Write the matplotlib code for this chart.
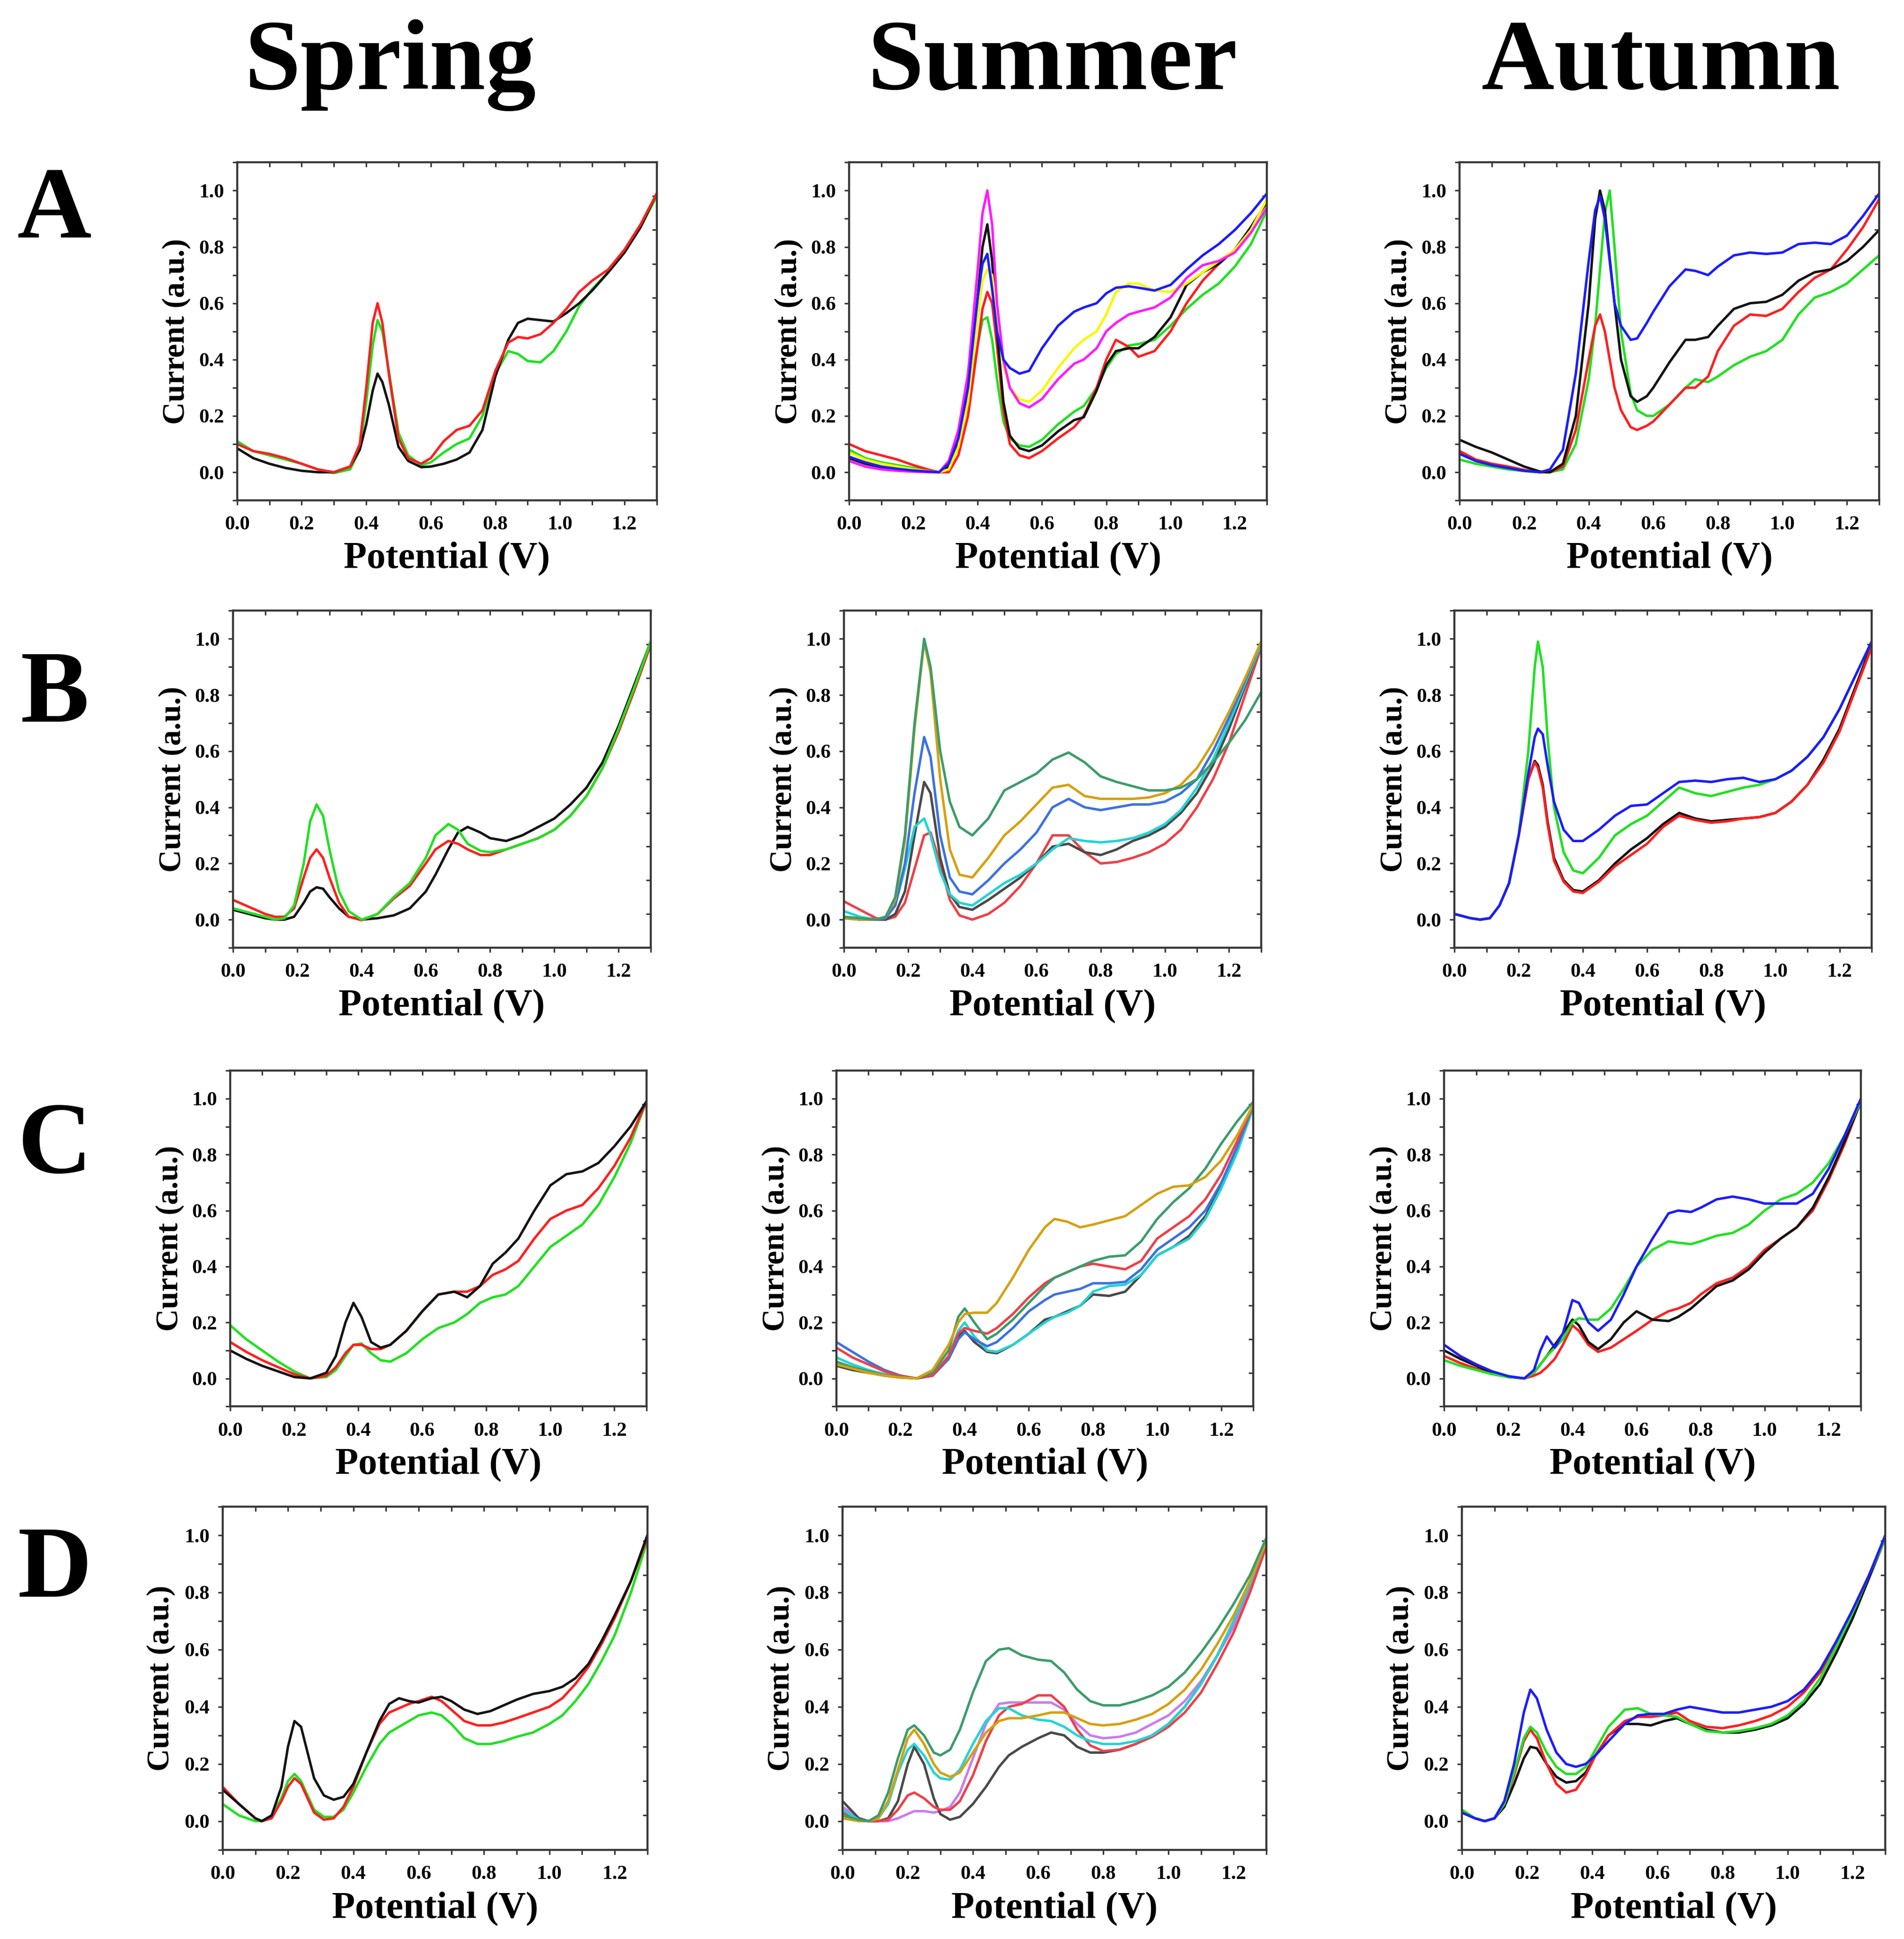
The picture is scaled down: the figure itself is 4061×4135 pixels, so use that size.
import matplotlib
matplotlib.use("Agg")
import matplotlib.pyplot as plt
from matplotlib.ticker import MultipleLocator, FixedLocator, FormatStrFormatter

plt.rcParams['font.family'] = ['Liberation Serif', 'DejaVu Serif']
plt.rcParams['font.weight'] = 'bold'

# colours
BLACK = '#141414'
RED = '#ff1f1f'
GREEN = '#22e022'
BLUE = '#1c1cff'
MAGENTA = '#ff1aff'
YELLOW = '#f8f800'
S_GRAY = '#4a4a4a'
S_RED = '#ee4048'
S_TEAL = '#3c9c6c'
S_GOLD = '#d6a010'
S_BLUE = '#3c72e0'
S_CYAN = '#22d4d4'
S_VIOLET = '#c77cf0'

seasons = ['Spring', 'Summer', 'Autumn']
rows = ['A', 'B', 'C', 'D']

# ---------------- row A ----------------
x_a_spring = [0, 0.05, 0.1, 0.15, 0.2, 0.25, 0.3, 0.35, 0.38, 0.4, 0.42, 0.435, 0.45, 0.47, 0.5,
              0.53, 0.57, 0.6, 0.64, 0.68, 0.72, 0.76, 0.8, 0.84, 0.87, 0.9, 0.94, 0.98, 1.02, 1.06,
              1.1, 1.15, 1.2, 1.25, 1.3]
a_spring_black = [0.085, 0.05, 0.03, 0.015, 0.005, 0.0, 0.0, 0.02, 0.08, 0.17, 0.29, 0.35, 0.32, 0.24, 0.09,
                  0.04, 0.018, 0.02, 0.03, 0.045, 0.07, 0.15, 0.34, 0.47, 0.53, 0.545, 0.54, 0.535, 0.565, 0.6,
                  0.645, 0.71, 0.78, 0.87, 0.99]
a_spring_red = [0.1, 0.075, 0.065, 0.05, 0.03, 0.01, 0.0, 0.02, 0.1, 0.3, 0.53, 0.6, 0.53, 0.35, 0.12,
                0.05, 0.03, 0.05, 0.11, 0.15, 0.165, 0.22, 0.36, 0.46, 0.48, 0.475, 0.49, 0.53, 0.58, 0.64,
                0.68, 0.72, 0.79, 0.88, 0.99]
a_spring_green = [0.11, 0.075, 0.06, 0.045, 0.03, 0.01, -0.003, 0.01, 0.08, 0.25, 0.45, 0.54, 0.5, 0.36, 0.14,
                  0.06, 0.025, 0.035, 0.07, 0.1, 0.12, 0.2, 0.35, 0.43, 0.42, 0.395, 0.39, 0.43, 0.5, 0.59,
                  0.65, 0.71, 0.78, 0.87, 0.98]

x_a_summer = [0, 0.05, 0.1, 0.15, 0.2, 0.25, 0.28, 0.31, 0.34, 0.37, 0.4, 0.415, 0.43, 0.445, 0.46,
              0.48, 0.5, 0.53, 0.56, 0.6, 0.65, 0.7, 0.73, 0.77, 0.8, 0.83, 0.87, 0.9, 0.95, 1.0,
              1.05, 1.1, 1.15, 1.2, 1.25, 1.3]
a_summer_green = [0.08, 0.05, 0.035, 0.025, 0.015, 0.005, 0.0, 0.01, 0.09, 0.25, 0.45, 0.54, 0.55, 0.47, 0.33,
                  0.18, 0.12, 0.095, 0.09, 0.115, 0.17, 0.215, 0.235, 0.3, 0.37, 0.42, 0.45, 0.455, 0.47, 0.52,
                  0.58, 0.63, 0.67, 0.73, 0.81, 0.93]
a_summer_red = [0.1, 0.075, 0.06, 0.045, 0.025, 0.008, 0.0, 0.0, 0.06, 0.2, 0.45, 0.58, 0.64, 0.6, 0.45,
                0.22, 0.1, 0.06, 0.05, 0.075, 0.12, 0.16, 0.2, 0.3, 0.4, 0.47, 0.445, 0.41, 0.43, 0.5,
                0.6, 0.68, 0.74, 0.79, 0.87, 0.96]
a_summer_black = [0.05, 0.03, 0.018, 0.01, 0.005, 0.002, 0.0, 0.02, 0.1, 0.27, 0.62, 0.8, 0.88, 0.75, 0.5,
                  0.25, 0.13, 0.085, 0.075, 0.095, 0.145, 0.185, 0.195, 0.29, 0.38, 0.43, 0.44, 0.44, 0.48, 0.55,
                  0.665, 0.71, 0.74, 0.79, 0.87, 0.96]
a_summer_yellow = [0.07, 0.045, 0.03, 0.02, 0.01, 0.003, 0.0, 0.01, 0.09, 0.25, 0.55, 0.68, 0.72, 0.7, 0.55,
                   0.38, 0.3, 0.26, 0.25, 0.29, 0.37, 0.44, 0.47, 0.5, 0.56, 0.64, 0.67, 0.67, 0.645, 0.64,
                   0.67, 0.71, 0.75, 0.79, 0.86, 0.97]
a_summer_magenta = [0.04, 0.02, 0.01, 0.005, 0.002, 0.0, 0.0, 0.04, 0.15, 0.35, 0.72, 0.92, 1.0, 0.88, 0.6,
                    0.4, 0.3, 0.245, 0.23, 0.26, 0.33, 0.385, 0.4, 0.44, 0.5, 0.53, 0.56, 0.57, 0.585, 0.62,
                    0.69, 0.735, 0.75, 0.78, 0.85, 0.94]
a_summer_blue = [0.055, 0.035, 0.02, 0.012, 0.006, 0.002, 0.0, 0.03, 0.12, 0.3, 0.62, 0.74, 0.775, 0.65, 0.5,
                 0.4, 0.37, 0.35, 0.36, 0.44, 0.52, 0.57, 0.585, 0.6, 0.635, 0.655, 0.66, 0.655, 0.645, 0.665,
                 0.72, 0.77, 0.81, 0.86, 0.92, 0.99]

x_a_autumn = [0, 0.05, 0.1, 0.15, 0.2, 0.25, 0.28, 0.32, 0.36, 0.4, 0.42, 0.435, 0.45, 0.465, 0.48,
              0.5, 0.53, 0.55, 0.58, 0.6, 0.65, 0.7, 0.73, 0.77, 0.8, 0.85, 0.9, 0.95, 1.0, 1.05,
              1.1, 1.15, 1.2, 1.25, 1.3]
a_autumn_green = [0.045, 0.03, 0.02, 0.01, 0.004, 0.0, 0.0, 0.01, 0.1, 0.33, 0.52, 0.72, 0.92, 1.0, 0.8,
                  0.5, 0.28, 0.22, 0.2, 0.2, 0.24, 0.3, 0.33, 0.32, 0.34, 0.38, 0.41, 0.43, 0.47, 0.56,
                  0.62, 0.64, 0.67, 0.72, 0.77]
a_autumn_red = [0.075, 0.045, 0.03, 0.02, 0.008, 0.0, 0.0, 0.02, 0.15, 0.4, 0.52, 0.56, 0.5, 0.4, 0.3,
                0.22, 0.16, 0.15, 0.165, 0.18, 0.24, 0.3, 0.3, 0.34, 0.43, 0.52, 0.56, 0.555, 0.58, 0.64,
                0.69, 0.72, 0.79, 0.87, 0.97]
a_autumn_black = [0.115, 0.09, 0.07, 0.045, 0.02, 0.002, 0.0, 0.03, 0.2, 0.6, 0.9, 1.0, 0.93, 0.76, 0.6,
                  0.4, 0.27, 0.25, 0.27, 0.3, 0.39, 0.47, 0.47, 0.48, 0.52, 0.58, 0.6, 0.605, 0.63, 0.68,
                  0.71, 0.72, 0.75, 0.8, 0.86]
a_autumn_blue = [0.065, 0.04, 0.025, 0.015, 0.005, 0.0, 0.01, 0.08, 0.35, 0.75, 0.93, 0.98, 0.9, 0.75, 0.6,
                 0.52, 0.47, 0.475, 0.53, 0.57, 0.66, 0.72, 0.715, 0.7, 0.73, 0.77, 0.78, 0.775, 0.78, 0.81,
                 0.815, 0.81, 0.84, 0.91, 0.99]

# ---------------- row B ----------------
x_b_spring = [0, 0.05, 0.1, 0.13, 0.16, 0.19, 0.22, 0.24, 0.26, 0.28, 0.3, 0.33, 0.36, 0.4, 0.45,
              0.5, 0.55, 0.6, 0.63, 0.67, 0.7, 0.73, 0.77, 0.8, 0.85, 0.9, 0.95, 1.0, 1.05, 1.1,
              1.15, 1.2, 1.25, 1.3]
b_spring_black = [0.035, 0.02, 0.005, 0.0, 0.0, 0.01, 0.06, 0.1, 0.115, 0.11, 0.08, 0.04, 0.01, 0.0, 0.005,
                  0.015, 0.04, 0.1, 0.16, 0.25, 0.31, 0.33, 0.31, 0.29, 0.28, 0.3, 0.33, 0.36, 0.41, 0.47,
                  0.56, 0.69, 0.84, 0.99]
b_spring_red = [0.07, 0.045, 0.02, 0.01, 0.01, 0.04, 0.15, 0.22, 0.25, 0.22, 0.15, 0.06, 0.01, -0.002, 0.02,
                0.075, 0.12, 0.2, 0.25, 0.28, 0.27, 0.25, 0.23, 0.23, 0.25, 0.27, 0.29, 0.32, 0.37, 0.44,
                0.54, 0.67, 0.82, 0.98]
b_spring_green = [0.04, 0.025, 0.01, 0.0, 0.005, 0.05, 0.2, 0.35, 0.41, 0.37, 0.25, 0.1, 0.03, 0.0, 0.02,
                  0.08, 0.13, 0.22, 0.3, 0.34, 0.32, 0.27, 0.245, 0.24, 0.25, 0.27, 0.29, 0.32, 0.37, 0.44,
                  0.54, 0.68, 0.83, 0.99]

x_b_summer = [0, 0.05, 0.1, 0.13, 0.16, 0.19, 0.22, 0.25, 0.27, 0.3, 0.33, 0.36, 0.4, 0.45, 0.5,
              0.55, 0.6, 0.65, 0.7, 0.75, 0.8, 0.85, 0.9, 0.95, 1.0, 1.05, 1.1, 1.15, 1.2, 1.25, 1.3]
b_summer_red = [0.065, 0.035, 0.005, 0.0, 0.01, 0.06, 0.18, 0.3, 0.31, 0.2, 0.07, 0.015, 0.0, 0.02, 0.06,
                0.12, 0.2, 0.3, 0.3, 0.24, 0.2, 0.205, 0.22, 0.24, 0.27, 0.32, 0.4, 0.5, 0.63, 0.8, 0.97]
b_summer_gray = [0.005, 0.0, 0.0, 0.0, 0.02, 0.1, 0.3, 0.49, 0.45, 0.22, 0.09, 0.045, 0.035, 0.07, 0.11,
                 0.15, 0.2, 0.26, 0.27, 0.24, 0.23, 0.25, 0.28, 0.3, 0.33, 0.38, 0.45, 0.55, 0.68, 0.83, 0.98]
b_summer_cyan = [0.03, 0.01, 0.0, 0.01, 0.05, 0.18, 0.33, 0.36, 0.3, 0.17, 0.09, 0.06, 0.05, 0.09, 0.13,
                 0.16, 0.2, 0.25, 0.29, 0.28, 0.275, 0.28, 0.29, 0.31, 0.34, 0.39, 0.47, 0.57, 0.7, 0.84, 0.98]
b_summer_blue = [0.01, 0.0, 0.0, 0.005, 0.05, 0.2, 0.45, 0.65, 0.58, 0.3, 0.15, 0.1, 0.09, 0.14, 0.2,
                 0.25, 0.31, 0.4, 0.43, 0.4, 0.39, 0.4, 0.41, 0.41, 0.42, 0.45, 0.5, 0.6, 0.72, 0.85, 0.99]
b_summer_gold = [0.005, 0.0, 0.0, 0.01, 0.07, 0.28, 0.68, 0.99, 0.88, 0.5, 0.25, 0.16, 0.15, 0.22, 0.3,
                 0.35, 0.41, 0.47, 0.48, 0.44, 0.43, 0.43, 0.43, 0.435, 0.45, 0.48, 0.54, 0.63, 0.74, 0.86, 0.99]
b_summer_teal = [0.01, 0.005, 0.0, 0.01, 0.08, 0.3, 0.7, 1.0, 0.9, 0.6, 0.42, 0.33, 0.3, 0.36, 0.46,
                 0.49, 0.52, 0.57, 0.595, 0.56, 0.51, 0.49, 0.475, 0.46, 0.46, 0.47, 0.5, 0.56, 0.63, 0.71, 0.81]

x_b_autumn = [0, 0.05, 0.08, 0.11, 0.14, 0.17, 0.2, 0.23, 0.25, 0.26, 0.275, 0.29, 0.31, 0.34, 0.37,
              0.4, 0.45, 0.5, 0.55, 0.6, 0.65, 0.7, 0.75, 0.8, 0.85, 0.9, 0.95, 1.0, 1.05, 1.1,
              1.15, 1.2, 1.25, 1.3]
b_autumn_black = [0.02, 0.005, 0.0, 0.005, 0.05, 0.13, 0.3, 0.5, 0.565, 0.55, 0.48, 0.35, 0.22, 0.14, 0.105,
                  0.1, 0.14, 0.2, 0.25, 0.29, 0.34, 0.38, 0.36, 0.35, 0.355, 0.36, 0.365, 0.38, 0.42, 0.48,
                  0.57, 0.68, 0.83, 0.98]
b_autumn_red = [0.02, 0.005, 0.0, 0.005, 0.05, 0.13, 0.3, 0.5, 0.56, 0.54, 0.47, 0.34, 0.21, 0.135, 0.1,
                0.095, 0.135, 0.19, 0.23, 0.27, 0.33, 0.37, 0.355, 0.345, 0.35, 0.36, 0.365, 0.38, 0.42, 0.48,
                0.56, 0.67, 0.82, 0.97]
b_autumn_green = [0.02, 0.005, 0.0, 0.005, 0.05, 0.13, 0.3, 0.6, 0.9, 0.99, 0.9, 0.65, 0.4, 0.24, 0.175,
                  0.165, 0.22, 0.3, 0.34, 0.37, 0.42, 0.47, 0.45, 0.44, 0.455, 0.47, 0.48, 0.5, 0.53, 0.58,
                  0.65, 0.75, 0.87, 0.99]
b_autumn_blue = [0.02, 0.005, 0.0, 0.005, 0.05, 0.13, 0.3, 0.52, 0.65, 0.68, 0.66, 0.55, 0.42, 0.32, 0.28,
                 0.28, 0.32, 0.37, 0.405, 0.41, 0.45, 0.49, 0.495, 0.49, 0.5, 0.505, 0.49, 0.5, 0.53, 0.58,
                 0.65, 0.75, 0.87, 0.99]

# ---------------- row C ----------------
x_c_spring = [0, 0.05, 0.1, 0.15, 0.2, 0.25, 0.3, 0.33, 0.36, 0.385, 0.41, 0.44, 0.47, 0.5, 0.55,
              0.6, 0.65, 0.7, 0.74, 0.78, 0.82, 0.86, 0.9, 0.95, 1.0, 1.05, 1.1, 1.15, 1.2, 1.25, 1.3]
c_spring_green = [0.19, 0.14, 0.1, 0.06, 0.025, 0.0, 0.005, 0.03, 0.08, 0.12, 0.125, 0.09, 0.065, 0.06, 0.09,
                  0.14, 0.18, 0.2, 0.23, 0.27, 0.29, 0.3, 0.33, 0.4, 0.47, 0.51, 0.55, 0.62, 0.72, 0.84, 0.99]
c_spring_red = [0.13, 0.095, 0.065, 0.04, 0.015, 0.0, 0.01, 0.04, 0.09, 0.12, 0.12, 0.105, 0.105, 0.12, 0.17,
                0.24, 0.3, 0.31, 0.31, 0.33, 0.37, 0.39, 0.42, 0.5, 0.57, 0.6, 0.62, 0.68, 0.76, 0.86, 0.99]
c_spring_black = [0.1, 0.07, 0.045, 0.025, 0.005, 0.0, 0.02, 0.08, 0.2, 0.27, 0.22, 0.13, 0.11, 0.12, 0.17,
                  0.24, 0.3, 0.31, 0.29, 0.33, 0.41, 0.45, 0.5, 0.6, 0.69, 0.73, 0.74, 0.77, 0.83, 0.9, 0.99]

x_c_summer = [0, 0.05, 0.1, 0.15, 0.2, 0.25, 0.3, 0.35, 0.38, 0.4, 0.43, 0.47, 0.5, 0.55, 0.6,
              0.65, 0.68, 0.72, 0.76, 0.8, 0.85, 0.9, 0.95, 1.0, 1.05, 1.1, 1.15, 1.2, 1.25, 1.3]
c_summer_gray = [0.045, 0.03, 0.02, 0.01, 0.003, 0.0, 0.01, 0.07, 0.15, 0.17, 0.13, 0.095, 0.09, 0.12, 0.16,
                 0.21, 0.22, 0.24, 0.26, 0.3, 0.295, 0.31, 0.37, 0.44, 0.47, 0.51, 0.58, 0.69, 0.82, 0.98]
c_summer_cyan = [0.075, 0.05, 0.03, 0.015, 0.005, 0.0, 0.01, 0.08, 0.17, 0.2, 0.15, 0.1, 0.095, 0.12, 0.16,
                 0.2, 0.22, 0.235, 0.26, 0.31, 0.33, 0.335, 0.37, 0.44, 0.47, 0.5, 0.57, 0.68, 0.81, 0.97]
c_summer_blue = [0.13, 0.095, 0.06, 0.03, 0.01, 0.0, 0.01, 0.07, 0.14, 0.165, 0.14, 0.115, 0.13, 0.18, 0.24,
                 0.28, 0.3, 0.31, 0.32, 0.34, 0.34, 0.345, 0.39, 0.46, 0.5, 0.54, 0.6, 0.7, 0.83, 0.98]
c_summer_red = [0.11, 0.075, 0.05, 0.025, 0.008, 0.0, 0.01, 0.08, 0.16, 0.18, 0.17, 0.16, 0.18, 0.23, 0.29,
                0.34, 0.36, 0.38, 0.4, 0.41, 0.4, 0.39, 0.42, 0.5, 0.54, 0.58, 0.64, 0.73, 0.85, 0.98]
c_summer_teal = [0.06, 0.04, 0.025, 0.012, 0.004, 0.0, 0.02, 0.1, 0.22, 0.25, 0.2, 0.14, 0.16, 0.21, 0.27,
                 0.33, 0.36, 0.38, 0.4, 0.42, 0.435, 0.44, 0.49, 0.57, 0.63, 0.68, 0.75, 0.84, 0.92, 0.99]
c_summer_gold = [0.05, 0.035, 0.02, 0.01, 0.003, 0.0, 0.03, 0.12, 0.2, 0.23, 0.235, 0.235, 0.27, 0.36, 0.46,
                 0.54, 0.57, 0.56, 0.54, 0.55, 0.565, 0.58, 0.62, 0.66, 0.685, 0.69, 0.72, 0.78, 0.87, 0.98]

x_c_autumn = [0, 0.05, 0.1, 0.15, 0.2, 0.25, 0.28, 0.3, 0.32, 0.345, 0.37, 0.4, 0.42, 0.45, 0.48,
              0.52, 0.56, 0.6, 0.65, 0.7, 0.73, 0.77, 0.8, 0.85, 0.9, 0.95, 1.0, 1.05, 1.1, 1.15,
              1.2, 1.25, 1.3]
c_autumn_red = [0.08, 0.055, 0.035, 0.018, 0.005, 0.0, 0.01, 0.02, 0.04, 0.07, 0.12, 0.19, 0.17, 0.12, 0.095,
                0.11, 0.14, 0.17, 0.21, 0.24, 0.25, 0.27, 0.3, 0.34, 0.36, 0.4, 0.46, 0.5, 0.54, 0.6,
                0.71, 0.84, 0.99]
c_autumn_black = [0.1, 0.07, 0.045, 0.02, 0.005, 0.0, 0.02, 0.05, 0.08, 0.12, 0.16, 0.21, 0.19, 0.13, 0.105,
                  0.14, 0.2, 0.24, 0.21, 0.205, 0.22, 0.25, 0.28, 0.33, 0.35, 0.39, 0.45, 0.5, 0.54, 0.61,
                  0.72, 0.85, 0.99]
c_autumn_green = [0.065, 0.045, 0.03, 0.015, 0.005, 0.0, 0.02, 0.05, 0.08, 0.11, 0.14, 0.2, 0.215, 0.21, 0.21,
                  0.25, 0.32, 0.4, 0.46, 0.49, 0.485, 0.48, 0.49, 0.51, 0.52, 0.55, 0.6, 0.64, 0.66, 0.7,
                  0.77, 0.87, 0.99]
c_autumn_blue = [0.12, 0.08, 0.05, 0.025, 0.008, 0.0, 0.03, 0.1, 0.15, 0.11, 0.16, 0.28, 0.27, 0.2, 0.17,
                 0.21, 0.3, 0.4, 0.5, 0.59, 0.6, 0.595, 0.61, 0.64, 0.65, 0.64, 0.625, 0.625, 0.625, 0.66,
                 0.75, 0.87, 1.0]

# ---------------- row D ----------------
x_d_spring = [0, 0.05, 0.1, 0.12, 0.15, 0.18, 0.2, 0.22, 0.24, 0.26, 0.28, 0.31, 0.34, 0.37, 0.4,
              0.44, 0.48, 0.51, 0.54, 0.57, 0.6, 0.64, 0.67, 0.7, 0.74, 0.78, 0.82, 0.86, 0.9, 0.95,
              1.0, 1.04, 1.08, 1.12, 1.16, 1.2, 1.25, 1.3]
d_spring_green = [0.06, 0.02, 0.0, 0.0, 0.02, 0.08, 0.14, 0.165, 0.14, 0.09, 0.04, 0.015, 0.015, 0.04, 0.1,
                  0.19, 0.27, 0.31, 0.33, 0.35, 0.37, 0.38, 0.37, 0.34, 0.29, 0.27, 0.27, 0.28, 0.295, 0.31,
                  0.34, 0.37, 0.42, 0.48, 0.56, 0.65, 0.8, 0.98]
d_spring_red = [0.12, 0.06, 0.01, 0.0, 0.01, 0.07, 0.12, 0.15, 0.13, 0.08, 0.03, 0.005, 0.01, 0.05, 0.12,
                0.24, 0.34, 0.38, 0.395, 0.41, 0.42, 0.435, 0.42, 0.39, 0.35, 0.335, 0.335, 0.345, 0.36, 0.38,
                0.4, 0.43, 0.48, 0.54, 0.62, 0.71, 0.84, 0.99]
d_spring_black = [0.11, 0.06, 0.01, 0.0, 0.02, 0.12, 0.26, 0.35, 0.33, 0.24, 0.15, 0.09, 0.075, 0.085, 0.13,
                  0.24, 0.35, 0.41, 0.43, 0.42, 0.415, 0.43, 0.435, 0.42, 0.39, 0.375, 0.385, 0.405, 0.425, 0.445,
                  0.455, 0.47, 0.5, 0.55, 0.63, 0.72, 0.84, 1.0]

x_d_summer = [0, 0.05, 0.08, 0.11, 0.14, 0.17, 0.2, 0.22, 0.25, 0.28, 0.3, 0.33, 0.36, 0.4, 0.44,
              0.48, 0.51, 0.55, 0.6, 0.64, 0.68, 0.72, 0.76, 0.8, 0.85, 0.9, 0.95, 1.0, 1.05, 1.1,
              1.15, 1.2, 1.25, 1.3]
d_summer_violet = [0.05, 0.01, 0.0, 0.0, 0.0, 0.01, 0.025, 0.035, 0.035, 0.03, 0.035, 0.05, 0.1, 0.22, 0.34,
                   0.41, 0.415, 0.415, 0.415, 0.415, 0.39, 0.34, 0.3, 0.29, 0.295, 0.31, 0.34, 0.37, 0.42, 0.49,
                   0.58, 0.68, 0.81, 0.97]
d_summer_gray = [0.07, 0.01, 0.0, 0.0, 0.01, 0.07, 0.2, 0.26, 0.2, 0.08, 0.025, 0.005, 0.015, 0.06, 0.12,
                 0.19, 0.23, 0.26, 0.29, 0.31, 0.3, 0.26, 0.24, 0.24, 0.25, 0.27, 0.3, 0.34, 0.4, 0.48,
                 0.58, 0.7, 0.83, 0.98]
d_summer_red = [0.03, 0.005, 0.0, 0.0, 0.005, 0.04, 0.09, 0.1, 0.08, 0.05, 0.04, 0.04, 0.07, 0.16, 0.28,
                0.37, 0.4, 0.41, 0.44, 0.44, 0.4, 0.32, 0.265, 0.245, 0.25, 0.27, 0.295, 0.33, 0.38, 0.45,
                0.55, 0.66, 0.8, 0.96]
d_summer_cyan = [0.04, 0.005, 0.0, 0.01, 0.06, 0.17, 0.25, 0.27, 0.23, 0.17, 0.15, 0.145, 0.18, 0.27, 0.35,
                 0.395, 0.395, 0.37, 0.355, 0.35, 0.33, 0.3, 0.28, 0.27, 0.27, 0.28, 0.3, 0.34, 0.4, 0.48,
                 0.58, 0.7, 0.83, 0.98]
d_summer_gold = [0.01, 0.0, 0.0, 0.01, 0.07, 0.18, 0.29, 0.32, 0.27, 0.2, 0.17, 0.155, 0.17, 0.24, 0.31,
                 0.35, 0.36, 0.36, 0.37, 0.38, 0.38, 0.36, 0.34, 0.335, 0.34, 0.355, 0.375, 0.41, 0.46, 0.53,
                 0.62, 0.72, 0.84, 0.98]
d_summer_teal = [0.02, 0.005, 0.0, 0.02, 0.1, 0.22, 0.32, 0.335, 0.3, 0.24, 0.23, 0.25, 0.32, 0.45, 0.56,
                 0.6, 0.605, 0.58, 0.565, 0.56, 0.52, 0.46, 0.42, 0.405, 0.405, 0.42, 0.44, 0.47, 0.52, 0.59,
                 0.67, 0.76, 0.86, 0.99]

x_d_autumn = [0, 0.04, 0.07, 0.1, 0.13, 0.16, 0.19, 0.21, 0.23, 0.26, 0.29, 0.32, 0.35, 0.38, 0.41,
              0.45, 0.5, 0.54, 0.58, 0.62, 0.66, 0.7, 0.75, 0.8, 0.85, 0.9, 0.95, 1.0, 1.05, 1.1,
              1.15, 1.2, 1.25, 1.3]
d_autumn_black = [0.03, 0.01, 0.0, 0.01, 0.05, 0.13, 0.22, 0.26, 0.255, 0.2, 0.155, 0.135, 0.14, 0.17, 0.23,
                  0.3, 0.34, 0.34, 0.335, 0.35, 0.36, 0.34, 0.32, 0.31, 0.31, 0.32, 0.335, 0.36, 0.41, 0.48,
                  0.59, 0.71, 0.85, 0.99]
d_autumn_red = [0.03, 0.01, 0.0, 0.01, 0.06, 0.16, 0.28, 0.32, 0.29, 0.2, 0.13, 0.1, 0.11, 0.16, 0.23,
                0.3, 0.35, 0.365, 0.365, 0.37, 0.38, 0.35, 0.33, 0.325, 0.335, 0.35, 0.37, 0.4, 0.45, 0.52,
                0.62, 0.74, 0.86, 0.99]
d_autumn_green = [0.04, 0.01, 0.0, 0.01, 0.06, 0.17, 0.29, 0.33, 0.31, 0.24, 0.19, 0.165, 0.165, 0.19, 0.25,
                  0.33, 0.39, 0.395, 0.375, 0.37, 0.365, 0.34, 0.315, 0.31, 0.315, 0.325, 0.34, 0.37, 0.42, 0.5,
                  0.61, 0.73, 0.86, 0.99]
d_autumn_blue = [0.03, 0.01, 0.0, 0.01, 0.07, 0.2, 0.38, 0.46, 0.43, 0.32, 0.24, 0.2, 0.19, 0.2, 0.23,
                 0.28, 0.34, 0.37, 0.375, 0.375, 0.39, 0.4, 0.39, 0.38, 0.38, 0.39, 0.4, 0.42, 0.46, 0.53,
                 0.63, 0.74, 0.86, 1.0]

panels = {
    (0, 0): (x_a_spring, [(a_spring_green, GREEN), (a_spring_black, BLACK), (a_spring_red, RED)]),
    (0, 1): (x_a_summer, [(a_summer_green, GREEN), (a_summer_red, RED), (a_summer_black, BLACK),
                          (a_summer_yellow, YELLOW), (a_summer_magenta, MAGENTA), (a_summer_blue, BLUE)]),
    (0, 2): (x_a_autumn, [(a_autumn_green, GREEN), (a_autumn_red, RED), (a_autumn_black, BLACK),
                          (a_autumn_blue, BLUE)]),
    (1, 0): (x_b_spring, [(b_spring_black, BLACK), (b_spring_red, RED), (b_spring_green, GREEN)]),
    (1, 1): (x_b_summer, [(b_summer_red, S_RED), (b_summer_gray, S_GRAY), (b_summer_cyan, S_CYAN),
                          (b_summer_blue, S_BLUE), (b_summer_gold, S_GOLD), (b_summer_teal, S_TEAL)]),
    (1, 2): (x_b_autumn, [(b_autumn_black, BLACK), (b_autumn_red, RED), (b_autumn_green, GREEN),
                          (b_autumn_blue, BLUE)]),
    (2, 0): (x_c_spring, [(c_spring_green, GREEN), (c_spring_red, RED), (c_spring_black, BLACK)]),
    (2, 1): (x_c_summer, [(c_summer_gray, S_GRAY), (c_summer_cyan, S_CYAN), (c_summer_blue, S_BLUE),
                          (c_summer_red, S_RED), (c_summer_teal, S_TEAL), (c_summer_gold, S_GOLD)]),
    (2, 2): (x_c_autumn, [(c_autumn_red, RED), (c_autumn_black, BLACK), (c_autumn_green, GREEN),
                          (c_autumn_blue, BLUE)]),
    (3, 0): (x_d_spring, [(d_spring_green, GREEN), (d_spring_red, RED), (d_spring_black, BLACK)]),
    (3, 1): (x_d_summer, [(d_summer_violet, S_VIOLET), (d_summer_gray, S_GRAY), (d_summer_red, S_RED),
                          (d_summer_cyan, S_CYAN), (d_summer_gold, S_GOLD), (d_summer_teal, S_TEAL)]),
    (3, 2): (x_d_autumn, [(d_autumn_black, BLACK), (d_autumn_red, RED), (d_autumn_green, GREEN),
                          (d_autumn_blue, BLUE)]),
}

# ---------------- layout (reference pixel grid 1536 x 1564) ----------------
W_REF, H_REF = 1536.0, 1564.0
row_tb = [(131.0, 403.6), (492.6, 764.4), (863.6, 1134.4), (1215.3, 1492.0)]
col_lr = [
    [(191.3, 529.8), (685.0, 1022.1), (1177.5, 1516.0)],
    [(188.0, 525.0), (680.8, 1017.4), (1173.4, 1509.9)],
    [(185.7, 521.5), (674.7, 1011.2), (1165.1, 1501.2)],
    [(179.6, 522.2), (679.7, 1021.5), (1179.4, 1520.9)],
]
title_x = [315, 849, 1340]
title_base = 72
letter_x = 44
letter_base = [192, 582, 946, 1288]
right_ticks = [0.02, 0.14, 0.26, 0.38, 0.50, 0.62, 0.74, 0.86, 0.98]

AX_COL = '#383838'
fig = plt.figure(figsize=(40.61, 41.35), dpi=100)


def style_axes(ax):
    ax.set_xlim(0, 1.3)
    ax.set_ylim(-0.1, 1.1)
    ax.xaxis.set_major_locator(MultipleLocator(0.2))
    ax.xaxis.set_minor_locator(MultipleLocator(0.1))
    ax.yaxis.set_major_locator(MultipleLocator(0.2))
    ax.yaxis.set_minor_locator(MultipleLocator(0.1))
    ax.xaxis.set_major_formatter(FormatStrFormatter('%.1f'))
    ax.yaxis.set_major_formatter(FormatStrFormatter('%.1f'))
    for sp in ax.spines.values():
        sp.set_color(AX_COL)
        sp.set_linewidth(3.2)
    ax.tick_params(axis='both', which='both', direction='out', length=7, width=2.4,
                   color=AX_COL, labelsize=31, labelcolor='black')
    ax.tick_params(axis='x', which='major', pad=17)
    ax.tick_params(axis='y', which='major', pad=13)
    top = ax.secondary_xaxis('top')
    top.xaxis.set_major_locator(MultipleLocator(0.1))
    top.tick_params(direction='in', length=7, width=2.4, color=AX_COL, labeltop=False)
    right = ax.secondary_yaxis('right')
    right.yaxis.set_major_locator(FixedLocator(right_ticks))
    right.tick_params(direction='in', length=7, width=2.4, color=AX_COL, labelright=False)
    for sec in (top, right):
        for sp in sec.spines.values():
            sp.set_visible(False)
    ax.set_xlabel('Potential (V)', fontsize=58, fontweight='bold', va='top')
    ax.xaxis.set_label_coords(0.5, -0.122)
    ax.set_ylabel('Current (a.u.)', fontsize=48, fontweight='bold', va='center')
    ax.yaxis.set_label_coords(-0.145, 0.5)


for (r, c), (xs, curves) in panels.items():
    left, right_edge = col_lr[r][c]
    top_px, bot_px = row_tb[r]
    rect = [left / W_REF, 1 - bot_px / H_REF, (right_edge - left) / W_REF, (bot_px - top_px) / H_REF]
    ax = fig.add_axes(rect)
    for ys, col in curves:
        ax.plot(xs, ys, color=col, lw=3.8, solid_joinstyle='round', solid_capstyle='round')
    style_axes(ax)

for name, xc in zip(seasons, title_x):
    fig.text(xc / W_REF, 1 - title_base / H_REF, name, ha='center', va='baseline',
             fontsize=155, fontweight='bold')
for letter, yb in zip(rows, letter_base):
    fig.text(letter_x / W_REF, 1 - yb / H_REF, letter, ha='center', va='baseline',
             fontsize=158, fontweight='bold')

fig.savefig('out.png', dpi=100, facecolor='white')
